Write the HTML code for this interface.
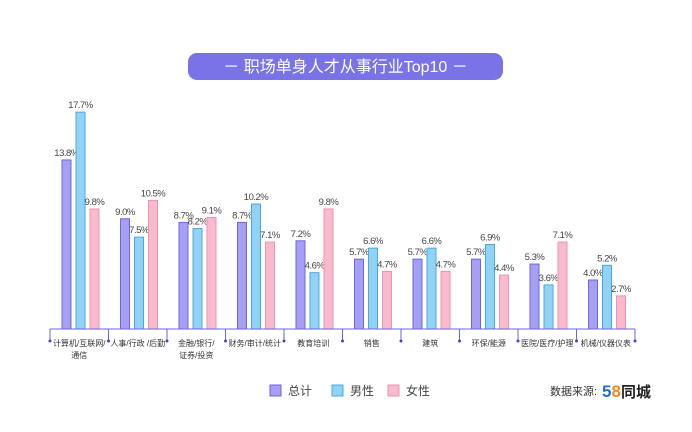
<!DOCTYPE html>
<html><head><meta charset="utf-8"><style>
body{margin:0;background:#fff;}
svg{display:block;font-family:"Liberation Sans","Noto Sans CJK SC",sans-serif;}
</style></head><body>
<svg id="chart" width="692" height="432" viewBox="0 0 692 432">
<rect x="188" y="53" width="315" height="27" rx="9" fill="#7a73e8"/>
<text x="345.5" y="72" text-anchor="middle" font-size="16" fill="#fff">－ 职场单身人才从事行业Top10 －</text>
<g id="bars"></g>
<g>
<rect x="270" y="385" width="11" height="11" fill="#a6a0f5" stroke="#6d66dc"/>
<text x="288" y="395" font-size="12" fill="#444">总计</text>
<rect x="332" y="385" width="11" height="11" fill="#91d3f7" stroke="#4ba7e2"/>
<text x="350" y="395" font-size="12" fill="#444">男性</text>
<rect x="388" y="385" width="11" height="11" fill="#f9bacd" stroke="#ee93b0"/>
<text x="406" y="395" font-size="12" fill="#444">女性</text>
</g>
<text x="550" y="395" font-size="11" fill="#333">数据来源:</text>
<text x="602" y="397" font-size="17" font-weight="bold"><tspan fill="#1e6fd0">5</tspan><tspan fill="#f08a1c">8</tspan><tspan fill="#222" font-size="15">同城</tspan></text>
</svg>
<script>
const categories=[["计算机/互联网/","通信"],["人事/行政 /后勤"],["金融/银行/","证券/投资"],["财务/审计/统计"],["教育培训"],["销售"],["建筑"],["环保/能源"],["医院/医疗/护理"],["机械/仪器仪表"]];
const totalValues=[13.8,9.0,8.7,8.7,7.2,5.7,5.7,5.7,5.3,4.0];
const maleValues=[17.7,7.5,8.2,10.2,4.6,6.6,6.6,6.9,3.6,5.2];
const femaleValues=[9.8,10.5,9.1,7.1,9.8,4.7,4.7,4.4,7.1,2.7];
const NS="http://www.w3.org/2000/svg";
const g=document.getElementById('bars');
const x0=50,gw=58.5,base=329,scale=12.25;
const yPos=v=>base-v*scale;
const xPos=(i,s)=>x0+i*gw+12+s*14;
function mk(t,a){const e=document.createElementNS(NS,t);for(const k in a)e.setAttribute(k,a[k]);g.appendChild(e);return e;}
const series=[[totalValues,"#a6a0f5","#6d66dc","total"],[maleValues,"#91d3f7","#4ba7e2","male"],[femaleValues,"#f9bacd","#ee93b0","female"]];
categories.forEach((c,i)=>{
  series.forEach((s,si)=>{
    const v=s[0][i];
    const r=mk('rect',{x:xPos(i,si),y:yPos(v),width:9,height:base-yPos(v),fill:s[1],stroke:s[2],'stroke-width':1});
    
    
    const t=mk('text',{x:xPos(i,si)+4.5,y:yPos(v)-4,'text-anchor':'middle','font-size':9.5,fill:'#444','letter-spacing':'-0.5'});
    t.textContent=v.toFixed(1)+'%';
    
    
  });
  const tk=mk('line',{x1:x0+i*gw,y1:base,x2:x0+i*gw,y2:base+11,stroke:'#6d66dc'});
  
  
  const d=mk('circle',{cx:x0+i*gw,cy:base+12,r:1.5,fill:'#4a3fc8'});
  
  
  c.forEach((line,li)=>{
    const t=mk('text',{x:x0+i*gw+gw/2,y:base+17+li*12,'text-anchor':'middle','font-size':8,fill:'#333'});
    t.textContent=line;
    
    
  });
});
const ax=mk('line',{x1:x0,y1:base,x2:x0+10*gw,y2:base,stroke:'#6d66dc'});


const et=mk('line',{x1:x0+10*gw,y1:base,x2:x0+10*gw,y2:base+11,stroke:'#6d66dc'});


const ed=mk('circle',{cx:x0+10*gw,cy:base+12,r:1.5,fill:'#4a3fc8'});


</script>
</body></html>
